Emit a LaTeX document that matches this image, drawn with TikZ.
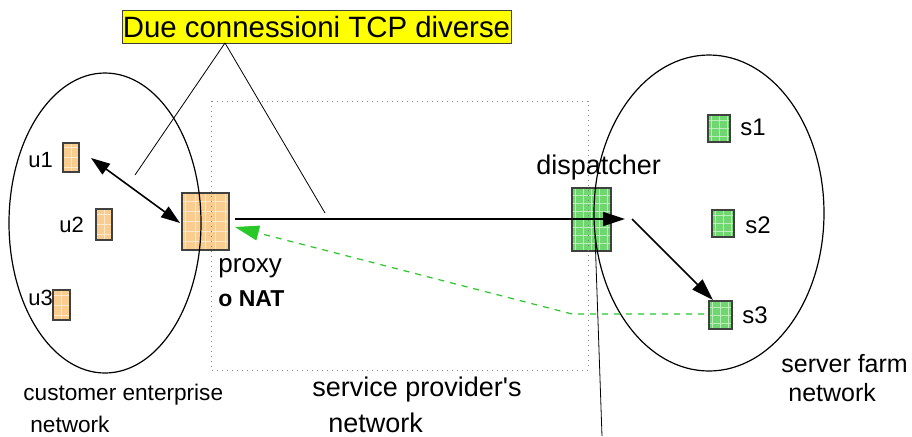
\documentclass[tikz,border=0pt]{standalone}
\usepackage{fontspec}
\setmainfont{Liberation Sans}
\usetikzlibrary{arrows.meta}
\definecolor{orfill}{RGB}{249,204,144}
\definecolor{grfill}{RGB}{112,214,112}
\definecolor{boxedge}{RGB}{64,64,64}
\definecolor{dgreen}{RGB}{40,200,40}
\definecolor{lblyellow}{RGB}{255,255,0}
\tikzset{
  fs/.style={font=\fontsize{#1}{#1}\selectfont},
  txt/.style={inner sep=0pt, anchor=west},
  hostbox/.style={draw=boxedge, line width=0.6pt, inner sep=0pt,
    path picture={\draw[white, line width=0.25pt, opacity=0.55]
      (path picture bounding box.south west) grid[step=#1]
      (path picture bounding box.north east);}},
  orbox/.style={hostbox=5pt, fill=orfill},
  grbox/.style={hostbox=4pt, fill=grfill},
  arr/.style={line width=0.8pt, -{Triangle[length=11pt,width=7pt]}},
  dbl/.style={line width=0.8pt, {Triangle[length=9.5pt,width=6.5pt]}-{Triangle[length=9.5pt,width=6.5pt]}},
  ret/.style={dgreen, line width=0.6pt, dash pattern=on 3pt off 3pt,
    -{Triangle[length=12pt,width=7.5pt]}},
  thin/.style={line width=0.4pt},
  net/.style={line width=0.6pt},
}
\begin{document}
\begin{tikzpicture}[x=0.5pt,y=-0.5pt]
\useasboundingbox (0,0) rectangle (912,436);
% hosts
\node[orbox, minimum width=23.5pt, minimum height=28.5pt] (proxy) at (205.5,221.5) {};
\node[orbox, minimum width=8pt, minimum height=14.5pt] (u1) at (71,157.5) {};
\node[orbox, minimum width=8pt, minimum height=15.5pt] (u2) at (104,224.5) {};
\node[orbox, minimum width=8.5pt, minimum height=15pt] (u3) at (61.5,305) {};
\node[grbox, minimum width=19.5pt, minimum height=31.5pt] (disp) at (591.5,219.5) {};
\node[grbox, minimum width=11pt, minimum height=13.5pt] (s1) at (719,128.5) {};
\node[grbox, minimum width=11pt, minimum height=13.5pt] (s2) at (723,223.5) {};
\node[grbox, minimum width=11.5pt, minimum height=14pt] (s3) at (720.5,315) {};
% networks
\draw[net] (105,223) ellipse [x radius=48pt, y radius=75pt];
\draw[net] (709,213) ellipse [x radius=57.5pt, y radius=79pt];
\draw[gray, line width=0.5pt, dotted] (211,101) rectangle (588,370);
% title label
\node[draw=boxedge, line width=0.4pt, fill=lblyellow, inner sep=0pt,
  minimum width=194.5pt, minimum height=16.5pt, fs=14.7] (lbl) at (316.5,26.5)
  {Due connessioni TCP diverse};
\coordinate (lp) at (225,43);
\coordinate (la) at (135,175);
\coordinate (lb) at (325,213);
\draw[thin] (la) -- (lp) -- (lb);
% text labels
\node[txt, fs=11] (tu1) at (28,160) {u1};
\node[txt, fs=11] (tu2) at (59,225) {u2};
\node[txt, fs=11] (tu3) at (28,298) {u3};
\node[txt, fs=12] (ts1) at (740,127) {s1};
\node[txt, fs=12] (ts2) at (745,225) {s2};
\node[txt, fs=12] (ts3) at (742,315) {s3};
\node[txt, fs=13.5] (tdisp) at (536,168) {dispatcher};
\node[txt, fs=13] (tproxy) at (218,268) {proxy};
\node[txt, font=\bfseries\fontsize{11.5}{11.5}\selectfont] (tnat) at (218,299) {o NAT};
\node[txt, fs=11.3] (tce1) at (23,395) {customer enterprise};
\node[txt, fs=11.3] (tce2) at (30,424) {network};
\node[txt, fs=13.5] (tsp1) at (312,390) {service provider\textquotesingle s};
\node[txt, fs=13.5] (tsp2) at (328,423) {network};
\node[txt, fs=12.5] (tsf1) at (781,364) {server farm};
\node[txt, fs=12.5] (tsf2) at (788,393) {network};
% connectors
\coordinate (a1) at (91,158);
\coordinate (a2) at (180,223);
\draw[dbl] (a1) -- (a2);
\coordinate (h1) at (235,219);
\coordinate (h2) at (625,219);
\draw[arr] (h1) -- (h2);
\coordinate (d1) at (632,219);
\coordinate (d2) at (713,300);
\draw[arr] (d1) -- (d2);
\coordinate (g1) at (704,314);
\coordinate (g2) at (572,314);
\coordinate (g3) at (235,227);
\draw[ret] (g1) -- (g2) -- (g3);
\coordinate (v1) at (595,235);
\coordinate (v2) at (602,436);
\draw[thin] (v1) -- (v2);
\end{tikzpicture}
\end{document}
